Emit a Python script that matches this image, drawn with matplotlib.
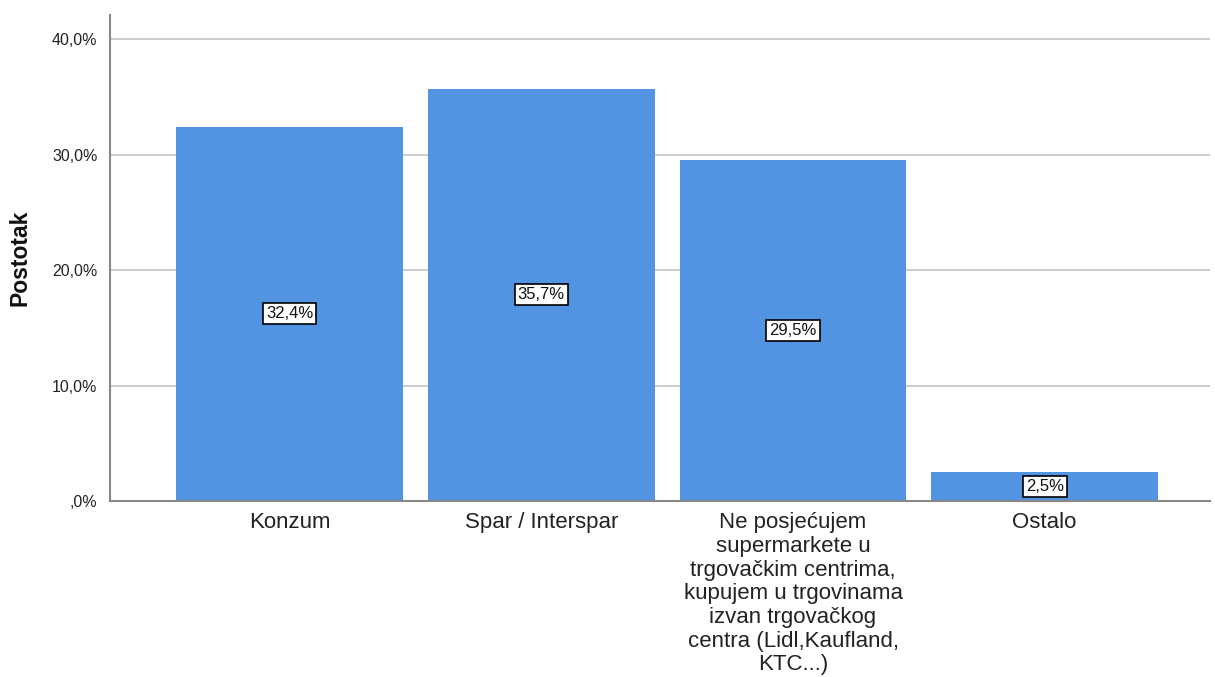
import matplotlib.pyplot as plt

plt.rcParams['font.family'] = ['Liberation Sans', 'DejaVu Sans']

categories = [
    "Konzum",
    "Spar / Interspar",
    "Ne posjećujem\nsupermarkete u\ntrgovačkim centrima,\nkupujem u trgovinama\nizvan trgovačkog\ncentra (Lidl,Kaufland,\nKTC...)",
    "Ostalo",
]
values = [32.4, 35.7, 29.5, 2.5]
value_labels = ["32,4%", "35,7%", "29,5%", "2,5%"]
ytick_values = [0, 10, 20, 30, 40]
ytick_labels = [",0%", "10,0%", "20,0%", "30,0%", "40,0%"]

fig = plt.figure(figsize=(12.15, 6.77), dpi=100)
ax = fig.add_axes([0.0905, 0.26, 0.905, 0.718])

x = range(len(categories))
ax.bar(x, values, width=0.9, color="#5294E2", zorder=2)

for i, v in enumerate(values):
    ax.text(i, v / 2, value_labels[i], ha="center", va="center", fontsize=12,
            color="#111111", zorder=3,
            bbox=dict(boxstyle="square,pad=0.18", facecolor="white",
                      edgecolor="black", linewidth=1.2))

ax.set_xlim(-0.714, 3.655)
ax.set_ylim(0, 42.1)
ax.set_yticks(ytick_values)
ax.set_yticklabels(ytick_labels, fontsize=11.5, color="#222222")
ax.set_xticks(list(x))
ax.set_xticklabels(categories, fontsize=16, color="#222222", linespacing=1.17,
                   va="top")
ax.tick_params(axis="both", length=0)
ax.tick_params(axis="x", pad=8)
ax.tick_params(axis="y", pad=9)

ax.yaxis.grid(True, color="#c8c8c8", linewidth=1.3, zorder=0)
ax.set_axisbelow(True)

for s in ["top", "right"]:
    ax.spines[s].set_visible(False)
ax.spines["left"].set_color("#888888")
ax.spines["left"].set_linewidth(1.5)
ax.spines["bottom"].set_color("#888888")
ax.spines["bottom"].set_linewidth(1.5)

ax.set_ylabel("Postotak", fontsize=16.5, fontweight="bold", color="#111111")
ax.yaxis.set_label_coords(-0.071, 0.5)

fig.savefig("out.png", dpi=100)
